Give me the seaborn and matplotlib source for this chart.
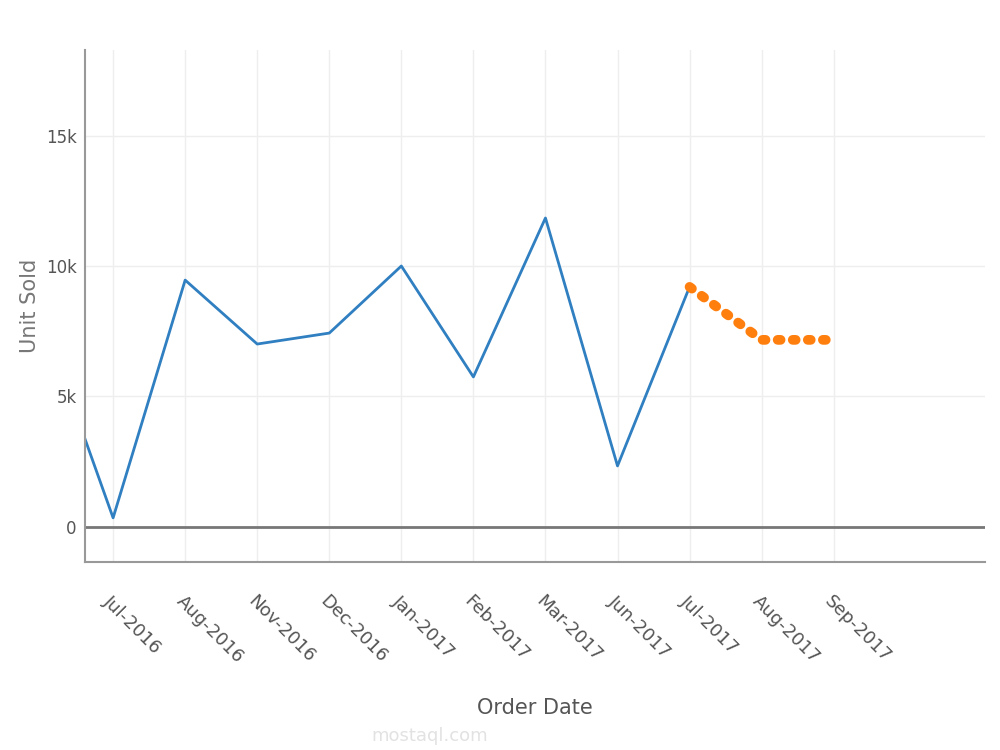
import pandas as pd
import matplotlib.pyplot as plt
import seaborn as sns

# Monthly units sold (actual) and the forecast tail
months = ['Jul-2016', 'Aug-2016', 'Nov-2016', 'Dec-2016', 'Jan-2017', 'Feb-2017',
          'Mar-2017', 'Jun-2017', 'Jul-2017', 'Aug-2017', 'Sep-2017']
# first value belongs to the month before Jul-2016, which sits just off the left edge
actual_units = [8100, 350, 9460, 7010, 7430, 10000, 5750, 11840, 2340, 9200]
forecast_units = [9200, 7170, 7170]
y_ticks = [0, 5000, 10000, 15000]
y_tick_labels = ['0', '5k', '10k', '15k']

actual = pd.DataFrame({'pos': range(-1, len(actual_units) - 1), 'units': actual_units})
forecast = pd.DataFrame({'pos': range(8, 8 + len(forecast_units)), 'units': forecast_units})

sns.set_style('white')
fig = plt.figure(figsize=(10, 7.5), dpi=100)
ax = fig.add_axes([0.085, 0.2507, 0.9, 0.6826])

sns.lineplot(data=actual, x='pos', y='units', color='#2f7fc1', linewidth=2, ax=ax)
sns.lineplot(data=forecast, x='pos', y='units', color='#ff7f0e', linewidth=7,
             linestyle=(0, (0.3, 1.25)), dash_capstyle='round', ax=ax)

ax.set_xlim(-0.39, 12.1)
ax.set_ylim(-1341, 18276)

ax.set_xticks(range(len(months)))
ax.set_xticklabels(months, rotation=-45, ha='left', rotation_mode='anchor',
                   color='#555555', fontsize=13)
ax.set_yticks(y_ticks)
ax.set_yticklabels(y_tick_labels, color='#555555', fontsize=12)
ax.tick_params(axis='x', length=0, pad=22)
ax.tick_params(axis='y', length=0, pad=6)

ax.grid(True, color='#eeeeee', linewidth=1)
ax.axhline(0, color='#777777', linewidth=2, zorder=1)

for side in ['top', 'right']:
    ax.spines[side].set_visible(False)
ax.spines['left'].set_color('#999999')
ax.spines['bottom'].set_color('#999999')
ax.spines['left'].set_linewidth(1.5)
ax.spines['bottom'].set_linewidth(1.5)

ax.set_xlabel('Order Date', color='#555555', fontsize=15, labelpad=22)
ax.set_ylabel('Unit Sold', color='#777777', fontsize=15, labelpad=4)

# site watermark, faint, below and left of the axis title
fig.text(0.43, 0.012, 'mostaql.com', color='#e2e2e2', fontsize=13, ha='center')

fig.savefig('out.png')
